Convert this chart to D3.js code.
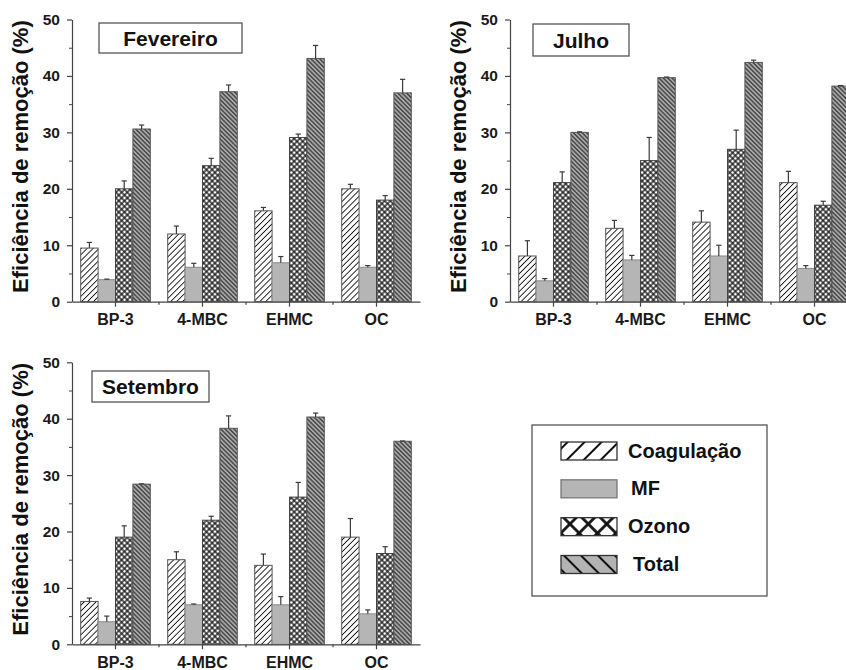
<!DOCTYPE html>
<html>
<head>
<meta charset="utf-8">
<script src="https://cdn.jsdelivr.net/npm/d3@7"></script>
<style>
  body { margin: 0; background: #fff; }
  svg { display: block; font-family: "Liberation Sans", Arial, sans-serif; font-weight: bold; }
</style>
</head>
<body>
<div id="chart"></div>
<script>
var categories = ['BP-3', '4-MBC', 'EHMC', 'OC'];
var series = ['Coagulação', 'MF', 'Ozono', 'Total'];
var yTicks = [0, 10, 20, 30, 40, 50];
var yMinor = [5, 15, 25, 35, 45];
var yTitle = 'Eficiência de remoção (%)';

// Fevereiro
var fevCoag = [9.5, 12.0, 16.1, 20.0],   fevCoagErr = [1.0, 1.4, 0.6, 0.8];
var fevMF = [3.9, 6.1, 6.9, 6.1],        fevMFErr = [0.1, 0.7, 1.1, 0.3];
var fevOzono = [20.0, 24.1, 29.1, 18.0], fevOzonoErr = [1.4, 1.3, 0.6, 0.8];
var fevTotal = [30.6, 37.2, 43.1, 37.0], fevTotalErr = [0.7, 1.2, 2.3, 2.4];
// Julho
var julCoag = [8.1, 13.0, 14.1, 21.1],   julCoagErr = [2.7, 1.4, 2.0, 2.0];
var julMF = [3.7, 7.4, 8.1, 5.9],        julMFErr = [0.4, 0.8, 1.9, 0.5];
var julOzono = [21.1, 25.0, 27.0, 17.1], julOzonoErr = [1.9, 4.1, 3.4, 0.7];
var julTotal = [30.0, 39.7, 42.4, 38.2], julTotalErr = [0.1, 0.1, 0.4, 0.1];
// Setembro
var setCoag = [7.6, 15.0, 14.0, 19.0],   setCoagErr = [0.6, 1.4, 2.0, 3.3];
var setMF = [4.0, 7.0, 7.0, 5.4],        setMFErr = [1.0, 0.15, 1.45, 0.7];
var setOzono = [19.0, 22.0, 26.1, 16.1], setOzonoErr = [2.0, 0.7, 2.6, 1.2];
var setTotal = [28.4, 38.3, 40.3, 36.0], setTotalErr = [0.05, 2.2, 0.7, 0.05];

var width = 846, height = 670;
var band = 87;

var panels = [
  { title: 'Fevereiro', x0: 72, yTop: 19.5, yBot: 301.7, box: [99, 23, 143, 30],
    vals: [fevCoag, fevMF, fevOzono, fevTotal], errs: [fevCoagErr, fevMFErr, fevOzonoErr, fevTotalErr] },
  { title: 'Julho', x0: 510, yTop: 19.5, yBot: 301.7, box: [533, 24, 96, 32],
    vals: [julCoag, julMF, julOzono, julTotal], errs: [julCoagErr, julMFErr, julOzonoErr, julTotalErr] },
  { title: 'Setembro', x0: 72, yTop: 362.3, yBot: 644.3, box: [92, 371, 117, 31],
    vals: [setCoag, setMF, setOzono, setTotal], errs: [setCoagErr, setMFErr, setOzonoErr, setTotalErr] }
];

var svg = d3.select('#chart').append('svg')
  .attr('width', width)
  .attr('height', height);

var defs = svg.append('defs');
function hatch(id, size, angle, bg, lw, cross) {
  var p = defs.append('pattern')
    .attr('id', id)
    .attr('patternUnits', 'userSpaceOnUse')
    .attr('width', size).attr('height', size)
    .attr('patternTransform', 'rotate(' + angle + ')');
  p.append('rect').attr('width', size).attr('height', size).attr('fill', bg);
  p.append('line')
    .attr('x1', size / 2).attr('x2', size / 2).attr('y1', 0).attr('y2', size)
    .attr('stroke', '#111').attr('stroke-width', lw);
  if (cross) {
    p.append('line')
      .attr('y1', size / 2).attr('y2', size / 2).attr('x1', 0).attr('x2', size)
      .attr('stroke', '#111').attr('stroke-width', lw);
  }
}
hatch('coag', 4.2, 45, '#fff', 0.9);
hatch('ozono', 4.0, 45, '#fff', 1.3, true);
hatch('total', 3.1, -45, '#aaaaaa', 0.95);
hatch('coagL', 12, 45, '#fff', 2);
hatch('ozonoL', 13, 45, '#fff', 2.8, true);
hatch('totalL', 12, -45, '#b3b3b3', 2);

var fills = ['url(#coag)', '#b5b5b5', 'url(#ozono)', 'url(#total)'];
var legendFills = ['url(#coagL)', '#b5b5b5', 'url(#ozonoL)', 'url(#totalL)'];
var strokes = ['#555', '#8a8a8a', '#444', '#555'];

panels.forEach(function (p) {
  var x = d3.scaleBand().domain(categories).range([p.x0, p.x0 + band * categories.length]);
  var xs = d3.scaleBand().domain(series).range([0, x.bandwidth()]).paddingInner(0).paddingOuter(0.5);
  var y = d3.scaleLinear().domain([0, 50]).range([p.yBot, p.yTop]);

  var rows = [];
  categories.forEach(function (c, ci) {
    series.forEach(function (s, si) {
      rows.push({ cat: c, ser: s, si: si, v: p.vals[si][ci], e: p.errs[si][ci] });
    });
  });

  var g = svg.append('g');

  g.selectAll('rect.bar')
    .data(rows)
    .enter().append('rect')
    .attr('class', 'bar')
    .attr('x', function (d) { return x(d.cat) + xs(d.ser); })
    .attr('y', function (d) { return y(d.v); })
    .attr('width', xs.bandwidth())
    .attr('height', function (d) { return y(0) - y(d.v); })
    .attr('fill', function (d) { return fills[d.si]; })
    .attr('stroke', function (d) { return strokes[d.si]; })
    .attr('stroke-width', 1);

  var eb = g.selectAll('g.err')
    .data(rows)
    .enter().append('g')
    .attr('class', 'err')
    .attr('stroke', '#3a3a3a')
    .attr('stroke-width', 1.2);
  eb.append('line')
    .attr('x1', function (d) { return x(d.cat) + xs(d.ser) + xs.bandwidth() / 2; })
    .attr('x2', function (d) { return x(d.cat) + xs(d.ser) + xs.bandwidth() / 2; })
    .attr('y1', function (d) { return y(d.v); })
    .attr('y2', function (d) { return y(d.v + d.e); });
  eb.append('line')
    .attr('x1', function (d) { return x(d.cat) + xs(d.ser) + xs.bandwidth() / 2 - 2.6; })
    .attr('x2', function (d) { return x(d.cat) + xs(d.ser) + xs.bandwidth() / 2 + 2.6; })
    .attr('y1', function (d) { return y(d.v + d.e); })
    .attr('y2', function (d) { return y(d.v + d.e); });

  // y axis
  var yAxis = g.append('g')
    .attr('transform', 'translate(' + p.x0 + ',0)')
    .call(d3.axisLeft(y).tickValues(yTicks).tickSize(5).tickSizeOuter(0).tickPadding(7));
  yAxis.select('.domain').attr('stroke', '#444').attr('stroke-width', 1.2);
  yAxis.selectAll('.tick line').attr('stroke', '#444').attr('stroke-width', 1.2);
  yAxis.selectAll('.tick text')
    .attr('fill', '#1a1a1a')
    .style('font-family', '"Liberation Sans", Arial, sans-serif')
    .style('font-size', '15.5px')
    .style('font-weight', 'bold');

  var yMin = g.append('g')
    .attr('transform', 'translate(' + p.x0 + ',0)')
    .call(d3.axisLeft(y).tickValues(yMinor).tickSize(3).tickSizeOuter(0).tickFormat(''));
  yMin.select('.domain').remove();
  yMin.selectAll('.tick line').attr('stroke', '#444');

  // x axis
  var xAxis = g.append('g')
    .attr('transform', 'translate(0,' + p.yBot + ')')
    .call(d3.axisBottom(x).tickSize(5).tickSizeOuter(0).tickPadding(7));
  xAxis.select('.domain').attr('stroke', '#444').attr('stroke-width', 1.2);
  xAxis.selectAll('.tick line').attr('stroke', '#444').attr('stroke-width', 1.2);
  xAxis.selectAll('.tick text')
    .attr('fill', '#1a1a1a')
    .style('font-family', '"Liberation Sans", Arial, sans-serif')
    .style('font-size', '16px')
    .style('font-weight', 'bold');

  // small ticks between categories
  g.selectAll('line.sep')
    .data(categories.slice(1))
    .enter().append('line')
    .attr('class', 'sep')
    .attr('x1', function (d) { return x(d); })
    .attr('x2', function (d) { return x(d); })
    .attr('y1', p.yBot)
    .attr('y2', p.yBot + 3)
    .attr('stroke', '#444')
    .attr('stroke-width', 1.2);

  // y title
  g.append('text')
    .attr('transform', 'translate(' + (p.x0 - 44) + ',' + ((p.yTop + p.yBot) / 2 - 4) + ') rotate(-90)')
    .attr('text-anchor', 'middle')
    .attr('fill', '#111')
    .style('font-size', '22px')
    .text(yTitle);

  // title box
  g.append('rect')
    .attr('x', p.box[0]).attr('y', p.box[1])
    .attr('width', p.box[2]).attr('height', p.box[3])
    .attr('fill', '#fff')
    .attr('stroke', '#555')
    .attr('stroke-width', 1.3);
  g.append('text')
    .attr('x', p.box[0] + p.box[2] / 2)
    .attr('y', p.box[1] + p.box[3] / 2 + 7.5)
    .attr('text-anchor', 'middle')
    .attr('fill', '#111')
    .style('font-size', '21px')
    .text(p.title);
});

// legend
var legend = svg.append('g');
legend.append('rect')
  .attr('x', 532).attr('y', 425)
  .attr('width', 235).attr('height', 171)
  .attr('fill', '#fff')
  .attr('stroke', '#555')
  .attr('stroke-width', 1.3);

var ly = d3.scalePoint().domain(series).range([451, 564.5]);
var li = legend.selectAll('g.item')
  .data(series)
  .enter().append('g')
  .attr('class', 'item');
li.append('rect')
  .attr('x', 561)
  .attr('y', function (d) { return ly(d) - 9; })
  .attr('width', 56)
  .attr('height', 18)
  .attr('fill', function (d, i) { return legendFills[i]; })
  .attr('stroke', function (d, i) { return i === 1 ? '#777' : '#333'; })
  .attr('stroke-width', 1.3);
li.append('text')
  .attr('x', function (d, i) { return [628, 631, 628, 633][i]; })
  .attr('y', function (d) { return ly(d) + 6.5; })
  .attr('fill', '#111')
  .style('font-size', '20px')
  .text(function (d) { return d; });
</script>
</body>
</html>
